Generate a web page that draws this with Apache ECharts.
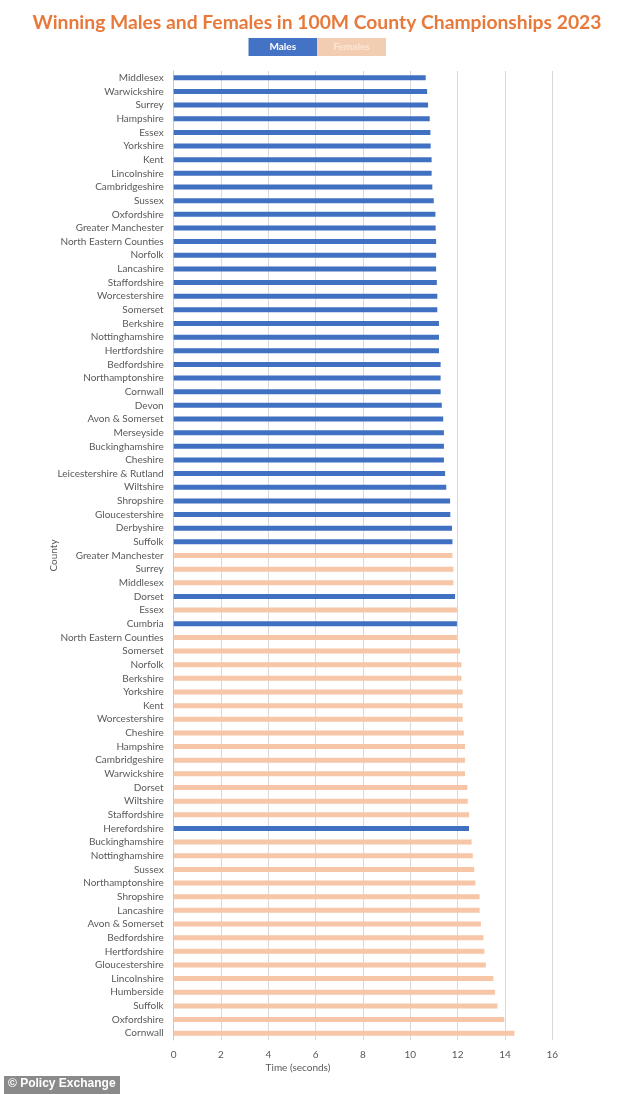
<!DOCTYPE html>
<html>
<head>
<meta charset="utf-8">
<script src="https://cdn.jsdelivr.net/npm/echarts@6/dist/echarts.min.js"></script>
<style>html,body{margin:0;padding:0;background:#fff}#c{width:634px;height:1094px}</style>
</head>
<body>
<div id="c"></div>
<script>
const counties = [
  'Middlesex','Warwickshire','Surrey','Hampshire','Essex','Yorkshire','Kent','Lincolnshire','Cambridgeshire','Sussex',
  'Oxfordshire','Greater Manchester','North Eastern Counties','Norfolk','Lancashire','Staffordshire','Worcestershire','Somerset','Berkshire','Nottinghamshire',
  'Hertfordshire','Bedfordshire','Northamptonshire','Cornwall','Devon','Avon & Somerset','Merseyside','Buckinghamshire','Cheshire','Leicestershire & Rutland',
  'Wiltshire','Shropshire','Gloucestershire','Derbyshire','Suffolk','Greater Manchester','Surrey','Middlesex','Dorset','Essex',
  'Cumbria','North Eastern Counties','Somerset','Norfolk','Berkshire','Yorkshire','Kent','Worcestershire','Cheshire','Hampshire',
  'Cambridgeshire','Warwickshire','Dorset','Wiltshire','Staffordshire','Herefordshire','Buckinghamshire','Nottinghamshire','Sussex','Northamptonshire',
  'Shropshire','Lancashire','Avon & Somerset','Bedfordshire','Hertfordshire','Gloucestershire','Lincolnshire','Humberside','Suffolk','Oxfordshire',
  'Cornwall'
];
// M = male winner, F = female winner (one letter per row, same order as counties)
const gender = [
  'M','M','M','M','M','M','M','M','M','M',
  'M','M','M','M','M','M','M','M','M','M',
  'M','M','M','M','M','M','M','M','M','M',
  'M','M','M','M','M','F','F','F','M','F',
  'M','F','F','F','F','F','F','F','F','F',
  'F','F','F','F','F','M','F','F','F','F',
  'F','F','F','F','F','F','F','F','F','F',
  'F'
];
const times = [
  10.65,10.71,10.75,10.82,10.85,10.86,10.90,10.90,10.93,10.99,
  11.06,11.07,11.09,11.09,11.09,11.12,11.14,11.14,11.21,11.21,
  11.21,11.28,11.28,11.28,11.33,11.39,11.42,11.42,11.42,11.47,
  11.52,11.68,11.69,11.76,11.78,11.78,11.82,11.82,11.89,11.97,
  11.97,11.97,12.10,12.16,12.16,12.21,12.21,12.21,12.26,12.31,
  12.31,12.31,12.41,12.43,12.48,12.48,12.59,12.64,12.70,12.75,
  12.93,12.93,12.98,13.09,13.13,13.19,13.51,13.58,13.68,13.97,
  14.40
];
const xTicks = { min: 0, max: 16, interval: 2 };
const seriesNames = ['Males', 'Females'];

const maleData = times.map((t, i) => gender[i] === 'M' ? t : '-');
const femaleData = times.map((t, i) => gender[i] === 'F' ? t : '-');

const BLUE = '#4070C2', PEACH = '#F6C6A6';
const chart = echarts.init(document.getElementById('c'), null, { renderer: 'canvas' });
chart.setOption({
  backgroundColor: '#ffffff',
  animation: false,
  title: {
    text: 'Winning Males and Females in 100M County Championships 2023',
    left: 'center', top: 8,
    textStyle: { fontFamily: 'Lato', fontSize: 19.3, fontWeight: 'bold', color: '#E7793B' }
  },
  legend: {
    data: seriesNames,
    left: 243.5, top: 38, padding: 0,
    itemWidth: 0, itemHeight: 18, itemGap: -5,
    selectedMode: false,
    formatter: n => n === 'Males' ? '{m|' + n + '}' : '{f|' + n + '}',
    textStyle: {
      fontFamily: 'Lato', fontSize: 10,
      rich: {
        m: { width: 68.5, height: 18, lineHeight: 18, align: 'center', backgroundColor: '#4472C4', color: '#ffffff', fontFamily: 'Lato', fontSize: 10, fontWeight: 'bold' },
        f: { width: 69, height: 18, lineHeight: 18, align: 'center', backgroundColor: '#F3CDB1', color: '#FBE6D7', fontFamily: 'Lato', fontSize: 10, fontWeight: 'bold' }
      }
    }
  },
  grid: { left: 173.7, right: 81.7, top: 71, bottom: 54, containLabel: false, outerBoundsMode: 'none' },
  xAxis: {
    type: 'value', min: xTicks.min, max: xTicks.max, interval: xTicks.interval,
    name: 'Time (seconds)', nameLocation: 'middle', nameGap: 23, nameMoveOverlap: false,
    nameTextStyle: { fontFamily: 'Lato', fontSize: 10, color: '#595959', padding: [0, 130, 0, 0] },
    axisLine: { show: false }, axisTick: { show: false },
    axisLabel: { fontFamily: 'Lato', fontSize: 10, color: '#595959', margin: 10 },
    splitLine: { show: true, lineStyle: { color: '#d9d9d9', width: 1 } }
  },
  yAxis: {
    type: 'category', data: counties, inverse: true,
    name: 'County', nameLocation: 'middle', nameGap: 115, nameRotate: 90, nameMoveOverlap: false,
    nameTextStyle: { fontFamily: 'Lato', fontSize: 10, color: '#595959' },
    axisLine: { show: true, lineStyle: { color: '#c8c8c8', width: 1 } },
    axisTick: { show: false },
    axisLabel: { interval: 0, fontFamily: 'Lato', fontSize: 10, color: '#595959', margin: 10 },
    splitLine: { show: false }
  },
  series: [
    { name: seriesNames[0], type: 'bar', stack: 'all', data: maleData, barWidth: 5, itemStyle: { color: BLUE } },
    { name: seriesNames[1], type: 'bar', stack: 'all', data: femaleData, barWidth: 5, itemStyle: { color: PEACH } }
  ],
  color: [BLUE, PEACH],
  graphic: [
    { type: 'rect', left: 4, top: 1076, shape: { width: 116, height: 18 }, style: { fill: '#8a8a8a' } },
    { type: 'text', left: 8, top: 1078, style: { text: '© Policy Exchange', fill: '#ffffff', font: 'bold 12px "Liberation Sans", Arial, sans-serif' } }
  ]
});
</script>
</body>
</html>
